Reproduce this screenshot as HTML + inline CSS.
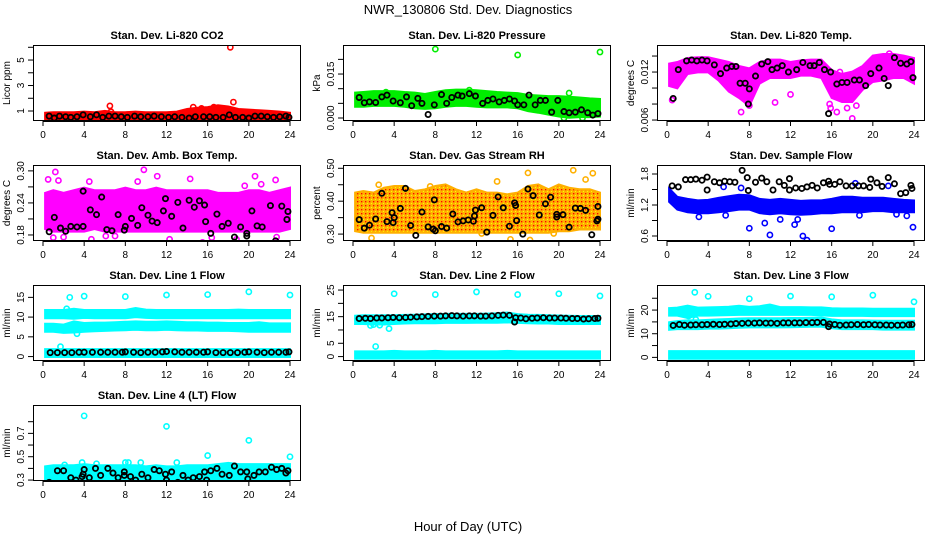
<!DOCTYPE html>
<html><head><meta charset="utf-8">
<style>
html,body{margin:0;padding:0;background:#fff;}
svg{display:block;font-family:"Liberation Sans",sans-serif;}
</style></head>
<body>
<svg id="chart" width="936" height="540" viewBox="0 0 936 540">
<defs>
<pattern id="rhpat" width="4" height="4" patternUnits="userSpaceOnUse">
<rect width="4" height="4" fill="#ffb000"/>
<rect x="1" y="1" width="1.3" height="1.3" fill="#ff0000"/>
<rect x="3" y="3" width="1" height="1" fill="#ffff00"/>
</pattern>
</defs>
<text x="468" y="14" text-anchor="middle" font-size="13">NWR_130806  Std. Dev. Diagnostics</text>
<text x="468" y="531" text-anchor="middle" font-size="13">Hour of Day (UTC)</text>
</svg>
<script>
const xTicks = [0,4,8,12,16,20,24];
const bandHours = [0,1,2,3,4,5,6,7,8,9,10,11,12,13,14,15,16,17,18,19,20,21,22,23,24];

// P1 CO2
const co2Low  = [0.45,0.45,0.45,0.45,0.45,0.45,0.45,0.45,0.45,0.45,0.45,0.45,0.45,0.45,0.45,0.45,0.45,0.45,0.45,0.45,0.45,0.45,0.45,0.45,0.45];
const co2High = [0.7,0.75,0.75,0.75,0.8,0.75,0.85,0.75,0.75,0.8,0.75,0.75,0.75,0.8,1.0,1.1,1.15,1.3,1.2,1.0,0.95,0.9,0.85,0.8,0.7];
const co2OutX = [6.5,18.2,18.5,14.6,15.4,16.6,6.6];
const co2OutY = [1.4,6.0,1.7,1.3,1.2,1.3,0.95];
const co2BlkX = [0.6,1.1,1.6,2.2,2.7,3.3,3.9,4.6,5.2,5.8,6.4,7.0,7.6,8.2,8.9,9.5,10.2,10.8,11.5,12.2,12.8,13.5,14.2,14.8,15.6,16.2,16.8,17.5,18.1,18.7,19.4,20.0,20.6,21.2,21.8,22.4,23.0,23.6,23.9];
const co2BlkY = [0.6,0.45,0.6,0.55,0.5,0.55,0.7,0.55,0.7,0.5,0.6,0.6,0.55,0.5,0.6,0.55,0.55,0.6,0.55,0.5,0.55,0.5,0.45,0.55,0.55,0.55,0.5,0.5,0.7,0.5,0.5,0.45,0.6,0.6,0.55,0.5,0.55,0.6,0.5];

// P2 pressure
const prLow  = [0.0045,0.0045,0.0048,0.0048,0.0048,0.0045,0.0040,0.0038,0.0040,0.0045,0.0048,0.0048,0.0045,0.0043,0.0043,0.0043,0.0040,0.0030,0.0025,0.0018,0.0012,0.0008,0.0010,0.0010,0.0012];
const prHigh = [0.0080,0.0082,0.0085,0.0085,0.0085,0.0082,0.0080,0.0075,0.0082,0.0088,0.0090,0.0090,0.0088,0.0085,0.0082,0.0080,0.0078,0.0072,0.0070,0.0068,0.0068,0.0066,0.0063,0.0060,0.0058];
const prOutX = [8.0,16.0,24.0,11.3,21.0,20.5,22.3,3.2];
const prOutY = [0.0235,0.0215,0.0225,0.0095,0.0085,0.0000,0.0000,0.0088];
const prBlkX = [0.6,1.1,1.6,2.2,2.8,3.3,3.9,4.6,5.2,5.7,6.3,6.7,7.3,7.9,8.6,9.1,9.6,10.2,10.6,11.3,11.9,12.6,13.1,13.6,14.2,14.7,15.2,15.7,16.0,16.6,17.1,17.7,18.2,18.7,19.3,19.9,20.5,21.0,21.6,22.2,22.8,23.3,23.8];
const prBlkY = [0.0070,0.0052,0.0055,0.0053,0.0072,0.0078,0.0058,0.0052,0.0072,0.0042,0.0067,0.0050,0.0012,0.0045,0.0080,0.0050,0.0070,0.0078,0.0075,0.0083,0.0075,0.0050,0.0060,0.0065,0.0055,0.0060,0.0065,0.0058,0.0045,0.0045,0.0078,0.0045,0.0060,0.0060,0.0020,0.0060,0.0022,0.0018,0.0020,0.0028,0.0018,0.0010,0.0015];

// P3 Li-820 temp
const ltLow  = [0.0105,0.0102,0.0120,0.0122,0.0122,0.0112,0.0098,0.0090,0.0080,0.0108,0.0115,0.0115,0.0115,0.0118,0.0118,0.0115,0.0090,0.0085,0.0085,0.0100,0.0110,0.0112,0.0115,0.0115,0.0108];
const ltHigh = [0.0128,0.0130,0.0135,0.0136,0.0136,0.0133,0.0130,0.0125,0.0122,0.0130,0.0133,0.0133,0.0130,0.0132,0.0133,0.0133,0.0120,0.0115,0.0118,0.0125,0.0138,0.0140,0.0140,0.0138,0.0135];
const ltOutX = [0.5,15.8,16.5,17.5,18.0,18.4,7.2,8.0,10.5,12.0,16.8,19.2,15.9,21.6];
const ltOutY = [0.0085,0.0080,0.0070,0.0075,0.0062,0.0078,0.0070,0.0078,0.0082,0.0092,0.0120,0.0105,0.0075,0.0143];
const ltBlkX = [0.6,1.1,1.9,2.4,2.9,3.4,3.9,4.6,5.2,5.8,6.3,6.7,7.1,7.6,7.9,8.0,8.6,9.2,9.8,10.2,10.7,11.2,11.8,12.6,13.2,13.9,14.3,14.8,15.3,15.7,15.9,16.5,17.0,17.5,18.2,18.7,19.3,19.8,20.6,21.1,21.5,22.1,22.7,23.3,23.7,23.9];
const ltBlkY = [0.0087,0.0123,0.0134,0.0135,0.0134,0.0135,0.0134,0.0129,0.0118,0.0125,0.0127,0.0127,0.0106,0.0106,0.0080,0.0099,0.0115,0.0130,0.0133,0.0123,0.0125,0.0128,0.0120,0.0123,0.0132,0.0128,0.0128,0.0132,0.0123,0.0068,0.0120,0.0105,0.0107,0.0107,0.0110,0.0110,0.0103,0.0118,0.0125,0.0112,0.0103,0.0138,0.0131,0.0130,0.0133,0.0113];

// P4 amb box temp
const abLow  = [0.195,0.19,0.19,0.19,0.19,0.195,0.19,0.19,0.19,0.19,0.19,0.19,0.19,0.19,0.19,0.19,0.19,0.19,0.19,0.19,0.19,0.19,0.19,0.19,0.195];
const abHigh = [0.255,0.26,0.255,0.26,0.265,0.26,0.26,0.26,0.265,0.26,0.26,0.265,0.26,0.26,0.26,0.26,0.26,0.255,0.255,0.255,0.26,0.26,0.255,0.26,0.265];
const abOutX = [1.2,0.5,1.5,4.7,9.8,11.1,15.5,18.8,20.6,22.6,1.0,6.1,22.7,4.5,14.3,2.0,7.0,12.3,16.4,19.6,9.2,21.2];
const abOutY = [0.298,0.284,0.282,0.172,0.302,0.29,0.166,0.172,0.29,0.283,0.175,0.178,0.176,0.28,0.285,0.176,0.178,0.172,0.175,0.272,0.28,0.275];
const abBlkX = [0.6,1.1,1.7,2.2,2.7,3.3,3.9,3.9,4.6,5.2,5.7,6.2,6.7,7.3,7.9,8.0,8.6,9.2,9.6,10.2,10.6,11.1,11.7,11.9,12.5,13.1,13.6,14.2,14.7,15.2,15.7,15.8,16.3,16.9,17.4,18.0,18.6,19.2,19.8,19.8,20.3,20.8,21.3,22.1,22.6,23.2,23.7,23.8];
const abBlkY = [0.186,0.213,0.193,0.187,0.196,0.195,0.196,0.262,0.227,0.218,0.251,0.19,0.188,0.218,0.189,0.196,0.211,0.198,0.231,0.217,0.206,0.203,0.225,0.248,0.215,0.241,0.193,0.245,0.232,0.244,0.236,0.205,0.183,0.219,0.196,0.202,0.176,0.195,0.178,0.183,0.225,0.197,0.195,0.235,0.169,0.234,0.209,0.224];

// P5 gas stream RH
const rhLow  = [0.315,0.31,0.31,0.31,0.31,0.31,0.31,0.31,0.31,0.31,0.31,0.31,0.31,0.31,0.31,0.31,0.31,0.31,0.31,0.31,0.315,0.315,0.32,0.32,0.32];
const rhHigh = [0.42,0.425,0.42,0.435,0.44,0.44,0.425,0.43,0.44,0.445,0.43,0.42,0.43,0.42,0.42,0.415,0.42,0.44,0.445,0.43,0.445,0.435,0.43,0.43,0.42];
const rhOutX = [1.8,14.0,17.0,17.2,21.4,23.3,15.3,22.6,12.5,19.5,2.5,7.5];
const rhOutY = [0.288,0.46,0.486,0.282,0.494,0.485,0.284,0.466,0.302,0.302,0.45,0.445];
const rhBlkX = [0.6,1.1,1.6,2.2,2.8,3.3,3.8,3.9,4.0,4.6,5.1,5.6,6.1,6.7,7.3,7.8,7.9,8.0,8.6,9.1,9.7,10.2,10.7,11.2,11.7,11.8,11.9,12.5,13.0,13.6,14.1,14.6,15.2,15.7,15.8,15.9,16.5,17.0,17.5,18.1,18.7,19.2,19.8,19.8,20.4,21.0,21.6,22.1,22.6,23.2,23.7,23.8,23.8];
const rhBlkY = [0.344,0.318,0.327,0.346,0.424,0.338,0.365,0.335,0.35,0.378,0.439,0.326,0.296,0.367,0.322,0.315,0.404,0.31,0.323,0.318,0.361,0.337,0.34,0.343,0.339,0.355,0.373,0.38,0.306,0.357,0.413,0.38,0.324,0.395,0.387,0.341,0.3,0.437,0.417,0.358,0.392,0.412,0.36,0.352,0.359,0.321,0.379,0.378,0.372,0.298,0.34,0.345,0.384];

// P6 sample flow
const sfLow  = [1.3,1.15,1.1,1.08,1.08,1.1,1.12,1.15,1.15,1.08,1.06,1.08,1.06,1.05,1.06,1.08,1.08,1.1,1.1,1.1,1.12,1.12,1.1,1.1,1.1];
const sfHigh = [1.48,1.32,1.28,1.25,1.26,1.3,1.33,1.36,1.35,1.28,1.26,1.28,1.26,1.24,1.25,1.25,1.28,1.32,1.32,1.3,1.3,1.3,1.28,1.26,1.25];
const sfOutX = [3.1,5.7,8.0,9.5,10.0,11.0,12.4,12.7,13.2,13.6,16.0,18.7,22.3,23.3,23.9,7.2,5.5,18.3,21.5];
const sfOutY = [0.97,1.0,0.75,0.85,0.62,0.92,0.82,0.92,0.6,0.52,0.74,1.0,1.02,0.99,0.77,1.53,1.55,1.62,1.57];
const sfBlkX = [0.5,1.1,1.8,2.3,2.8,3.4,3.9,3.9,4.6,5.1,5.6,6.1,6.6,7.3,7.8,7.9,8.6,9.2,9.7,10.3,10.9,11.4,11.9,11.9,12.5,13.1,13.6,14.1,14.6,15.2,15.7,15.8,16.3,16.8,17.4,18.0,18.6,19.1,19.7,19.8,20.4,20.9,21.5,22.1,22.7,23.2,23.7,23.8];
const sfBlkY = [1.57,1.55,1.69,1.69,1.7,1.68,1.74,1.49,1.65,1.63,1.66,1.65,1.64,1.87,1.73,1.48,1.64,1.72,1.65,1.49,1.65,1.58,1.49,1.71,1.53,1.52,1.55,1.58,1.53,1.63,1.66,1.6,1.6,1.65,1.57,1.57,1.57,1.57,1.54,1.7,1.63,1.56,1.73,1.61,1.42,1.44,1.58,1.52];

// P7 line 1 flow
const l1aLow=[10.2,10.2,10.2,10.1,10.3,10.2,10.2,10.2,10.2,10.5,10.3,10.2,10.2,10.2,10.2,10.2,10.2,10.2,10.2,10.2,10.2,10.2,10.2,10.2,10.2];
const l1aHigh=[11.3,11.3,11.3,11.6,11.3,11.3,11.3,11.3,11.3,11.8,11.4,11.3,11.3,11.3,11.3,11.3,11.3,11.3,11.3,11.4,11.3,11.3,11.3,11.3,11.3];
const l1bLow=[6.8,6.8,6.5,6.6,6.8,6.9,7.0,7.1,7.2,7.3,7.2,7.2,7.3,7.2,7.1,7.1,7.0,7.0,7.0,6.9,6.8,6.8,6.8,6.8,6.8];
const l1bHigh=[7.8,7.8,7.6,8.4,8.0,8.1,8.1,8.2,8.3,8.4,8.3,8.3,8.4,8.3,8.2,8.2,8.1,8.1,8.0,8.0,8.0,8.2,7.9,7.9,7.9];
const l1cLow=[0.4,0.4,0.4,0.4,0.4,0.4,0.4,0.4,0.4,0.4,0.4,0.4,0.4,0.4,0.4,0.4,0.4,0.4,0.4,0.4,0.4,0.4,0.4,0.4,0.4];
const l1cHigh=[1.4,1.4,1.4,1.4,1.4,1.4,1.4,1.4,1.4,1.4,1.4,1.4,1.4,1.4,1.4,1.4,1.4,1.4,1.4,1.4,1.4,1.4,1.4,1.4,1.4];
const l1OutX=[4.0,8.0,12.0,16.0,20.0,24.0,2.6,1.7,3.3,2.3];
const l1OutY=[15.3,15.2,15.6,15.7,16.4,15.6,15.0,2.5,5.8,12.1];
const l1BlkX=[0.7,1.4,2.1,2.8,3.5,4.0,4.8,5.6,6.3,7.0,7.7,8.0,8.8,9.5,10.2,10.9,11.6,12.0,12.8,13.5,14.2,14.9,15.6,16.0,16.8,17.5,18.2,18.9,19.6,20.0,20.8,21.5,22.2,22.9,23.6,23.9];
const l1BlkY=[1.0,1.0,1.0,1.0,1.1,1.1,1.1,1.1,1.1,1.1,1.1,1.2,1.1,1.0,1.1,1.1,1.2,1.3,1.2,1.1,1.1,1.1,1.1,1.2,1.0,1.0,1.0,1.0,1.1,1.2,1.1,1.0,1.1,1.1,1.1,1.2];

// P8 line 2 flow
const l2aLow=[13.0,13.0,12.8,12.8,13.0,13.2,13.3,13.3,13.3,13.4,13.4,13.4,13.5,13.5,13.5,13.6,13.4,13.3,13.2,13.2,13.0,13.0,13.0,13.0,13.0];
const l2aHigh=[14.6,14.8,14.8,14.8,14.8,14.9,15.0,15.1,15.2,15.3,15.3,15.3,15.3,15.4,15.5,15.8,15.2,15.0,14.9,14.8,14.7,14.6,14.5,14.5,14.5];
const l2bLow=[0,0,0,0,0,0,0,0,0,0,0,0,0,0,0,0,0,0,0,0,0,0,0,0,0];
const l2bHigh=[1.2,1.2,1.2,1.2,1.4,1.2,1.2,1.2,1.4,1.2,1.2,1.2,1.2,1.2,1.2,1.4,1.2,1.2,1.2,1.2,1.2,1.2,1.2,1.2,1.2];
const l2OutX=[4.0,8.0,12.0,16.0,20.0,24.0,2.2,3.5,2.6,1.7,2.0];
const l2OutY=[23.6,23.3,24.3,23.3,23.6,22.8,3.8,10.5,11.8,11.7,12.0];
const l2BlkX=[0.6,1.2,1.7,2.3,2.8,3.4,3.9,4.5,5.1,5.6,6.2,6.7,7.3,7.9,8.5,9.0,9.6,10.1,10.7,11.3,11.8,12.4,12.9,13.5,14.1,14.6,15.2,15.7,15.8,16.3,16.8,17.4,17.9,18.5,19.1,19.6,20.2,20.7,21.3,21.8,22.4,22.9,23.5,23.8];
const l2BlkY=[14.3,14.4,14.3,14.5,14.5,14.6,14.7,14.6,14.7,14.8,14.9,15.0,15.1,15.2,15.2,15.3,15.4,15.3,15.2,15.3,15.3,15.2,15.2,15.3,15.5,15.6,15.5,13.0,14.6,14.5,14.2,14.4,14.5,14.6,14.5,14.5,14.5,14.4,14.3,14.3,14.1,14.2,14.3,14.4];

// P9 line 3 flow
const l3aLow=[18.5,18.5,17.5,18.5,18.5,18.6,18.7,18.8,18.8,18.8,18.9,18.8,18.8,18.8,18.8,18.6,18.4,18.4,18.4,18.4,18.3,18.3,18.3,18.3,18.3];
const l3aHigh=[20.0,20.2,21.0,20.2,20.3,20.4,20.6,21.0,20.5,20.8,21.5,20.4,20.4,20.4,20.3,20.3,19.9,19.8,19.8,19.8,19.7,19.7,19.7,19.7,19.7];
const l3bLow=[12.5,12.8,12.8,12.8,13.0,13.0,13.2,13.4,13.5,13.5,13.5,13.5,13.6,13.7,13.8,13.8,13.2,12.8,12.8,12.8,12.8,12.6,12.6,12.6,12.6];
const l3bHigh=[14.0,14.5,14.8,14.8,15.0,15.2,15.4,15.6,15.7,15.7,15.7,15.7,15.8,15.8,15.9,16.0,15.2,14.8,14.8,14.8,14.7,14.6,14.6,14.6,14.6];
const l3cLow=[0.3,0.3,0.3,0.3,0.3,0.3,0.3,0.3,0.3,0.3,0.3,0.3,0.3,0.3,0.3,0.3,0.3,0.3,0.3,0.3,0.3,0.3,0.3,0.3,0.3];
const l3cHigh=[1.8,1.8,1.8,1.8,1.8,1.8,1.8,1.8,1.8,1.8,1.8,1.8,1.8,1.8,1.8,1.8,1.8,1.8,1.8,1.8,1.8,1.8,1.8,1.8,1.8];
const l3OutX=[2.7,4.0,8.0,12.0,16.0,20.0,24.0,2.1,2.8];
const l3OutY=[27.5,25.8,24.8,25.9,25.6,26.3,23.5,17.5,16.0];
const l3BlkX=[0.6,1.2,1.7,2.3,2.8,3.4,3.9,4.5,5.1,5.6,6.2,6.7,7.3,7.9,8.5,9.0,9.6,10.1,10.7,11.3,11.8,12.4,12.9,13.5,14.1,14.6,15.2,15.7,15.8,16.3,16.8,17.4,17.9,18.5,19.1,19.6,20.2,20.7,21.3,21.8,22.4,22.9,23.5,23.8];
const l3BlkY=[13.5,13.9,13.6,13.7,13.8,13.8,13.9,14.0,13.9,14.0,14.1,14.3,14.4,14.5,14.5,14.6,14.5,14.5,14.4,14.6,14.6,14.6,14.6,14.7,14.7,14.8,14.8,13.0,14.1,13.9,13.6,13.7,13.8,13.9,13.8,13.9,13.8,13.7,13.7,13.6,13.6,13.7,13.8,13.9];

// P10 line 4 flow
const l4Low=[0.3,0.29,0.29,0.29,0.28,0.28,0.28,0.28,0.28,0.29,0.29,0.29,0.28,0.28,0.28,0.29,0.29,0.3,0.3,0.3,0.3,0.3,0.3,0.3,0.31];
const l4High=[0.4,0.41,0.41,0.41,0.42,0.41,0.41,0.41,0.41,0.41,0.4,0.41,0.4,0.4,0.41,0.41,0.41,0.42,0.43,0.42,0.42,0.42,0.42,0.42,0.42];
const l4OutX=[4.0,12.0,20.0,24.0,16.0,13.0,3.8,8.0,8.3,9.5,2.1,5.2];
const l4OutY=[0.85,0.76,0.64,0.5,0.51,0.45,0.45,0.45,0.45,0.45,0.43,0.44];
const l4BlkX=[0.6,1.4,2.0,2.7,3.2,3.8,3.9,4.0,4.5,5.1,5.6,6.3,6.8,7.3,7.9,7.9,8.5,9.0,9.6,10.2,10.8,11.3,11.9,12.0,12.5,13.1,13.6,14.1,14.6,15.2,15.7,15.9,16.3,16.9,17.4,18.1,18.6,19.2,19.8,19.9,20.5,21.0,21.6,22.2,22.7,23.2,23.6,23.8];
const l4BlkY=[0.28,0.38,0.38,0.32,0.3,0.33,0.35,0.39,0.32,0.4,0.34,0.4,0.36,0.32,0.34,0.37,0.33,0.3,0.35,0.32,0.39,0.38,0.35,0.3,0.37,0.28,0.34,0.3,0.32,0.33,0.37,0.3,0.38,0.4,0.35,0.34,0.42,0.37,0.37,0.31,0.34,0.37,0.37,0.41,0.39,0.4,0.36,0.38];

const SVGNS="http://www.w3.org/2000/svg";
const svg=document.getElementById('chart');
function mk(tag,attrs,parent){const e=document.createElementNS(SVGNS,tag);for(const k in attrs)e.setAttribute(k,attrs[k]);(parent||svg).appendChild(e);return e;}

const panels=[
 {t:"Stan. Dev. Li-820 CO2",yl:"Licor ppm",col:0,row:0,ymin:0.216,ymax:6.18,ticks:[1,2,3,4,5,6],labs:[1,3,5],fmt:v=>String(v),color:"#ff0000",bands:[[co2Low,co2High]],ox:co2OutX,oy:co2OutY,bx:co2BlkX,by:co2BlkY},
 {t:"Stan. Dev. Li-820 Pressure",yl:"kPa",col:1,row:0,ymin:-0.00102,ymax:0.0249,ticks:[0,0.005,0.01,0.015,0.02],labs:[0,0.015],fmt:v=>v.toFixed(3),color:"#00ee00",bands:[[prLow,prHigh]],ox:prOutX,oy:prOutY,bx:prBlkX,by:prBlkY},
 {t:"Stan. Dev. Li-820 Temp.",yl:"degrees C",col:2,row:0,ymin:0.00588,ymax:0.01538,ticks:[0.006,0.008,0.010,0.012,0.014],labs:[0.006,0.012],fmt:v=>v.toFixed(3),color:"#ff00ff",bands:[[ltLow,ltHigh]],ox:ltOutX,oy:ltOutY,bx:ltBlkX,by:ltBlkY},
 {t:"Stan. Dev. Amb. Box Temp.",yl:"degrees C",col:0,row:1,ymin:0.1687,ymax:0.311,ticks:[0.18,0.21,0.24,0.27,0.30],labs:[0.18,0.24,0.30],fmt:v=>v.toFixed(2),color:"#ff00ff",bands:[[abLow,abHigh]],ox:abOutX,oy:abOutY,bx:abBlkX,by:abBlkY},
 {t:"Stan. Dev. Gas Stream RH",yl:"percent",col:1,row:1,ymin:0.279,ymax:0.51,ticks:[0.30,0.35,0.40,0.45,0.50],labs:[0.30,0.40,0.50],fmt:v=>v.toFixed(2),color:"#ffb000",fill:"url(#rhpat)",bands:[[rhLow,rhHigh]],ox:rhOutX,oy:rhOutY,bx:rhBlkX,by:rhBlkY},
 {t:"Stan. Dev. Sample Flow",yl:"ml/min",col:2,row:1,ymin:0.503,ymax:1.974,ticks:[0.6,0.9,1.2,1.5,1.8],labs:[0.6,1.2,1.8],fmt:v=>v.toFixed(1),color:"#0000ff",bands:[[sfLow,sfHigh]],ox:sfOutX,oy:sfOutY,bx:sfBlkX,by:sfBlkY},
 {t:"Stan. Dev. Line 1 Flow",yl:"ml/min",col:0,row:2,ymin:-1.12,ymax:18.13,ticks:[0,5,10,15],labs:[0,5,10,15],fmt:v=>String(v),color:"#00ffff",bands:[[l1aLow,l1aHigh],[l1bLow,l1bHigh],[l1cLow,l1cHigh]],ox:l1OutX,oy:l1OutY,bx:l1BlkX,by:l1BlkY},
 {t:"Stan. Dev. Line 2 Flow",yl:"ml/min",col:1,row:2,ymin:-1.66,ymax:26.9,ticks:[0,5,10,15,20,25],labs:[0,5,15,25],fmt:v=>String(v),color:"#00ffff",bands:[[l2aLow,l2aHigh],[l2bLow,l2bHigh]],ox:l2OutX,oy:l2OutY,bx:l2BlkX,by:l2BlkY},
 {t:"Stan. Dev. Line 3 Flow",yl:"ml/min",col:2,row:2,ymin:-1.53,ymax:30.6,ticks:[0,5,10,15,20,25],labs:[0,10,20],fmt:v=>String(v),color:"#00ffff",bands:[[l3aLow,l3aHigh],[l3bLow,l3bHigh],[l3cLow,l3cHigh]],ox:l3OutX,oy:l3OutY,bx:l3BlkX,by:l3BlkY},
 {t:"Stan. Dev. Line 4 (LT) Flow",yl:"ml/min",col:0,row:3,ymin:0.292,ymax:0.943,ticks:[0.3,0.4,0.5,0.6,0.7,0.8],labs:[0.3,0.5,0.7],fmt:v=>v.toFixed(1),color:"#00ffff",bands:[[l4Low,l4High]],ox:l4OutX,oy:l4OutY,bx:l4BlkX,by:l4BlkY}
];
const colL=[33,343,657], rowT=[45,165,285,405], W=268, H=76;

panels.forEach((p,i)=>{
  const L=colL[p.col], T=rowT[p.row], R=L+W, B=T+H;
  const g=mk('g',{});
  
  
  const xs=h=>L+10+h*(W-21)/24;
  const ys=v=>B-(v-p.ymin)/(p.ymax-p.ymin)*H;
  const clipId='clip'+i;
  const cp=mk('clipPath',{id:clipId},g); mk('rect',{x:L,y:T,width:W,height:H},cp);
  const plot=mk('g',{'clip-path':'url(#'+clipId+')'},g);
  p.bands.forEach((bd,bi)=>{
    const lo=bd[0],hi=bd[1];
    let d='';
    bandHours.forEach((h,k)=>{d+=(k?'L':'M')+xs(Math.max(h,0.2)).toFixed(1)+','+(ys(hi[k])-2).toFixed(1);});
    for(let k=bandHours.length-1;k>=0;k--){d+='L'+xs(Math.max(bandHours[k],0.2)).toFixed(1)+','+(ys(lo[k])+2).toFixed(1);}
    d+='Z';
    const band=mk('path',{d:d,fill:p.fill||p.color,stroke:p.color,'stroke-width':2},plot);
    
    
  });
  p.ox.forEach((h,k)=>{
    const c=mk('circle',{cx:xs(h),cy:ys(p.oy[k]),r:2.6,fill:'none',stroke:p.color,'stroke-width':1.6},plot);
    
    
  });
  p.bx.forEach((h,k)=>{
    const c=mk('circle',{cx:xs(h),cy:ys(p.by[k]),r:2.6,fill:'none',stroke:'#000','stroke-width':1.8},plot);
    
    
  });
  const box=mk('rect',{x:L+0.5,y:T+0.5,width:W-1,height:H-1,fill:'none',stroke:'#000','stroke-width':1},g);
  
  
  const tt=mk('text',{x:L+W/2,y:T-6,'text-anchor':'middle','font-size':11,'font-weight':'bold'},g);
  tt.textContent=p.t;
  
  
  xTicks.forEach(h=>{
    const x=xs(h);
    mk('line',{x1:x,y1:B,x2:x,y2:B+5,stroke:'#000'},g);
    const t=mk('text',{x:x,y:B+17,'text-anchor':'middle','font-size':10},g);
    t.textContent=h;
    
    
  });
  mk('line',{x1:xs(0),y1:B+0.5,x2:xs(24),y2:B+0.5,stroke:'#000'},g);
  p.ticks.forEach(v=>{
    const y=ys(v);
    if(y<T-1||y>B+1)return;
    mk('line',{x1:L-5,y1:y,x2:L,y2:y,stroke:'#000'},g);
    if(p.labs.some(l=>Math.abs(l-v)<1e-9)){
      const t=mk('text',{x:L-9,y:y,'text-anchor':'middle','font-size':10,transform:'rotate(-90 '+(L-9)+' '+y+')'},g);
      t.textContent=p.fmt(v);
      
      
    }
  });
  const yl=mk('text',{x:L-23,y:T+H/2,'text-anchor':'middle','font-size':10,transform:'rotate(-90 '+(L-23)+' '+(T+H/2)+')'},g);
  yl.textContent=p.yl;
  
  
});
</script>
</body></html>
